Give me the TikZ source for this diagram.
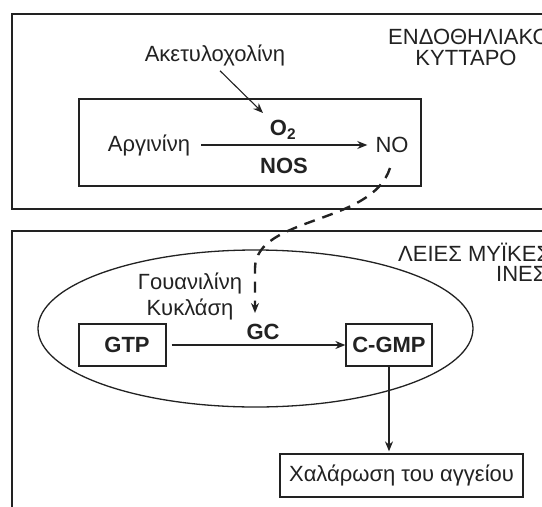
\documentclass[tikz,border=0pt]{standalone}
\usepackage{fontspec}
\setmainfont{Liberation Sans}
\usetikzlibrary{arrows.meta,shapes.geometric}
\definecolor{ink}{HTML}{222222}
\begin{document}
\begin{tikzpicture}[x=1pt,y=-1pt,
  lbl/.style={inner sep=0pt, text=ink, font=\fontsize{22}{26}\selectfont},
  blbl/.style={inner sep=0pt, text=ink, font=\fontsize{22}{26}\selectfont\bfseries},
  cellbox/.style={draw=ink, line width=2.2pt},
  sbox/.style={draw=ink, line width=1.3pt, inner sep=0pt},
  gbox/.style={draw=ink, line width=1.3pt, inner sep=0pt, text=ink, font=\fontsize{22}{26}\selectfont\bfseries},
  arr/.style={draw=ink, line width=1.1pt, -{Stealth[length=10pt,width=8pt]}},
  dasharr/.style={draw=ink, line width=2.4pt, dash pattern=on 11pt off 8pt, -{Stealth[length=10pt,width=8pt]}}]
\useasboundingbox (0,0) rectangle (542,507);
\clip (0,0) rectangle (542,507);
\fill[white] (0,0) rectangle (542,507);

% cells
\draw[cellbox] (11.7,14) rectangle (600,209);
\draw[cellbox] (11.7,231) rectangle (600,560);
\node[lbl, anchor=west] (endo1) at (388,37) {ΕΝΔΟΘΗΛΙΑΚΟ};
\node[lbl] (endo2) at (466,58) {ΚΥΤΤΑΡΟ};
\node[lbl, anchor=west] (smc1) at (398,252) {ΛΕΙΕΣ ΜΥΪΚΕΣ};
\node[lbl, anchor=west] (smc2) at (496,274) {ΙΝΕΣ};

% endothelial reaction
\node[sbox, minimum width=342, minimum height=87] (enzbox) at (250,142.5) {};
\node[lbl] (acetyl) at (215,55) {Ακετυλοχολίνη};
\coordinate (o2in) at (263,113);
\node[blbl] (o2) at (283,130) {O\textsubscript{2}};
\node[lbl] (arg) at (149,145) {Αργινίνη};
\node[lbl] (no) at (392,145) {NO};
\node[blbl] (nos) at (284,166) {NOS};
\draw[arr] ([xshift=5pt,yshift=-5pt]acetyl.south) -- (o2in);
\draw[arr, shorten <=11pt, shorten >=8pt] (arg) -- (no);

% smooth muscle
\node[ellipse, draw=ink, line width=1.3pt, inner sep=0pt, minimum width=435, minimum height=157] (gcell) at (255.5,328.5) {};
\node[lbl, align=center, font=\fontsize{22}{26}\selectfont] (gcname) at (190,296) {Γουανιλίνη\\Κυκλάση};
\node[gbox, minimum width=87, minimum height=42] (gtp) at (122.5,345) {\hspace*{9pt}GTP};
\node[gbox, minimum width=86, minimum height=42] (cgmp) at (389,345) {C-GMP};
\node[blbl] (gc) at (263,332) {GC};
\node[sbox, text=ink, font=\fontsize{22}{26}\selectfont, minimum width=243, minimum height=43] (relax) at (401.5,475.5) {Χαλάρωση του αγγείου};
\coordinate (gcin) at (255,313);

\draw[arr, shorten <=5pt] (gtp) -- (cgmp);
\draw[arr, shorten >=2pt] (cgmp.south) -- (cgmp.south |- relax.north);
\draw[dasharr] ([shift={(-2,23)}]no.center) .. controls (372,225) and (256,216) .. (255,268) -- (gcin);
\end{tikzpicture}
\end{document}
